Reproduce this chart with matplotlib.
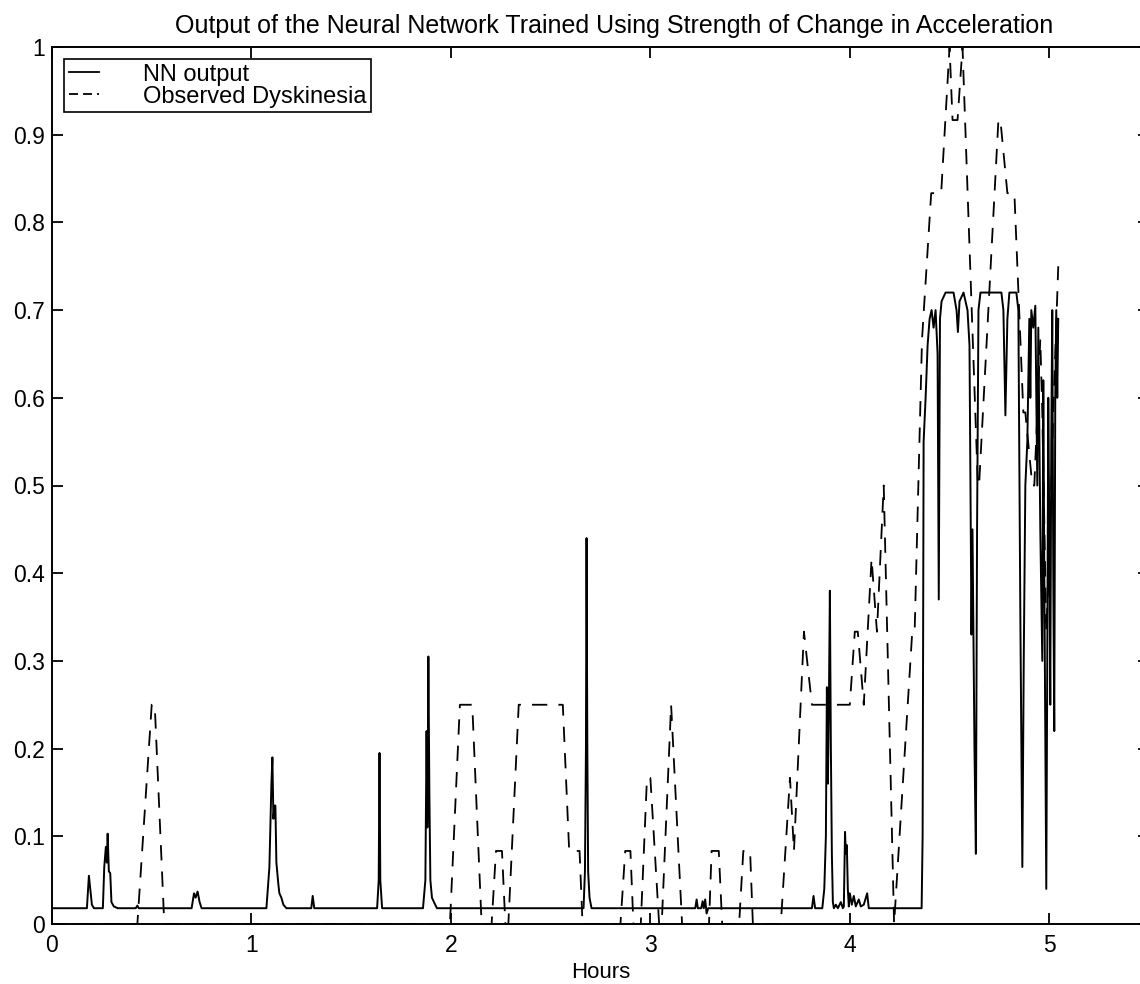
import matplotlib
matplotlib.use("Agg")
import matplotlib.pyplot as plt
from matplotlib.lines import Line2D

plt.rcParams['font.family'] = ['Liberation Sans', 'DejaVu Sans']
plt.rcParams['lines.scale_dashes'] = False

TITLE = "Output of the Neural Network Trained Using Strength of Change in Acceleration"
XLABEL = "Hours"
LEGEND_LABELS = ["NN output", "Observed Dyskinesia"]
X_TICKS = [0, 1, 2, 3, 4, 5]
Y_TICKS = [0, 0.1, 0.2, 0.3, 0.4, 0.5, 0.6, 0.7, 0.8, 0.9, 1.0]
Y_TICK_LABELS = ["0", "0.1", "0.2", "0.3", "0.4", "0.5", "0.6", "0.7", "0.8", "0.9", "1"]

# NN output (solid) : time in hours, value
nn_hours = [
    0.0, 0.175, 0.185, 0.192, 0.200, 0.210,
    0.255, 0.262, 0.270, 0.275, 0.279, 0.285, 0.292, 0.298, 0.310, 0.330,
    0.420, 0.428, 0.435,
    0.700, 0.712, 0.720, 0.730, 0.740, 0.750,
    1.075, 1.090, 1.100, 1.105, 1.110, 1.115, 1.120, 1.125, 1.135, 1.140, 1.150, 1.160, 1.175,
    1.300, 1.307, 1.315,
    1.630, 1.638, 1.642, 1.646, 1.655,
    1.860, 1.872, 1.878, 1.882, 1.887, 1.892, 1.897, 1.905, 1.915, 1.930,
    2.665, 2.672, 2.677, 2.680, 2.684, 2.688, 2.695, 2.705,
    3.225, 3.232, 3.238, 3.255, 3.262, 3.268, 3.275, 3.282, 3.290,
    3.810, 3.818, 3.826,
    3.862, 3.872, 3.880, 3.885, 3.890, 3.895, 3.900, 3.905, 3.910, 3.915, 3.920,
    3.930, 3.940, 3.955, 3.965,
    3.970, 3.976, 3.980, 3.985, 3.990, 3.995, 4.000, 4.010, 4.020, 4.030, 4.045, 4.055, 4.070, 4.087, 4.095,
    4.360, 4.365, 4.370, 4.380, 4.390, 4.400, 4.410, 4.420, 4.430, 4.440, 4.446, 4.452, 4.460,
    4.480, 4.520, 4.535, 4.542, 4.550, 4.570, 4.590, 4.600, 4.610, 4.615, 4.625, 4.632, 4.638,
    4.645, 4.655, 4.760, 4.770, 4.780, 4.790, 4.800, 4.835, 4.845, 4.855, 4.865, 4.872, 4.880,
    4.890, 4.900, 4.905, 4.910, 4.920, 4.930, 4.940, 4.945, 4.955, 4.965, 4.970, 4.975, 4.985,
    4.990, 4.995, 5.000, 5.005, 5.010, 5.015, 5.020, 5.025, 5.030, 5.035, 5.040, 5.045,
]
nn_values = [
    0.018, 0.018, 0.055, 0.040, 0.022, 0.018,
    0.018, 0.065, 0.088, 0.070, 0.103, 0.060, 0.058, 0.025, 0.020, 0.018,
    0.018, 0.021, 0.018,
    0.018, 0.035, 0.030, 0.037, 0.025, 0.018,
    0.018, 0.065, 0.160, 0.190, 0.120, 0.135, 0.135, 0.070, 0.045, 0.035, 0.030, 0.022, 0.018,
    0.018, 0.032, 0.018,
    0.018, 0.050, 0.195, 0.050, 0.018,
    0.018, 0.050, 0.220, 0.110, 0.305, 0.150, 0.050, 0.030, 0.025, 0.018,
    0.018, 0.060, 0.200, 0.440, 0.200, 0.060, 0.030, 0.018,
    0.018, 0.028, 0.018, 0.018, 0.026, 0.018, 0.028, 0.012, 0.018,
    0.018, 0.032, 0.018,
    0.018, 0.040, 0.100, 0.270, 0.160, 0.250, 0.380, 0.200, 0.080, 0.025, 0.018,
    0.022, 0.018, 0.025, 0.018,
    0.020, 0.105, 0.080, 0.090, 0.040, 0.020, 0.035, 0.022, 0.032, 0.020, 0.028, 0.020, 0.022, 0.035, 0.018,
    0.018, 0.100, 0.550, 0.600, 0.660, 0.690, 0.700, 0.680, 0.700, 0.650, 0.370, 0.690, 0.710,
    0.720, 0.720, 0.700, 0.675, 0.710, 0.720, 0.700, 0.660, 0.330, 0.450, 0.200, 0.080, 0.450,
    0.700, 0.720, 0.720, 0.700, 0.580, 0.690, 0.720, 0.720, 0.700, 0.350, 0.065, 0.300, 0.500,
    0.550, 0.690, 0.600, 0.700, 0.680, 0.705, 0.500, 0.680, 0.450, 0.300, 0.620, 0.400, 0.040,
    0.300, 0.600, 0.450, 0.250, 0.550, 0.700, 0.400, 0.220, 0.600, 0.700, 0.600, 0.690,
]

# Observed dyskinesia (dashed)
obs_hours = [
    0.0, 0.428, 0.500, 0.515, 0.563,
    1.995, 2.045, 2.107, 2.154,
    2.204, 2.226, 2.256, 2.273, 2.288, 2.340, 2.561, 2.593, 2.645, 2.660,
    2.850, 2.874, 2.900, 2.915, 2.952, 2.983, 3.000, 3.044, 3.057, 3.104, 3.159,
    3.294, 3.307, 3.343, 3.360, 3.445, 3.466, 3.500, 3.514,
    3.654, 3.700, 3.720, 3.770, 3.810, 4.000, 4.025, 4.040, 4.070, 4.109, 4.136, 4.170, 4.222,
    4.313, 4.325, 4.362, 4.408, 4.458, 4.500, 4.515, 4.540, 4.565, 4.642, 4.648,
    4.745, 4.755, 4.790, 4.825, 4.870, 4.880, 4.915, 4.925, 4.955, 4.965, 4.985, 5.000,
    5.020, 5.045,
]
obs_values = [
    0.0, 0.0, 0.25, 0.25, 0.0,
    0.0, 0.25, 0.25, 0.0,
    0.0, 0.0833, 0.0833, 0.0, 0.0, 0.25, 0.25, 0.0833, 0.0833, 0.0,
    0.0, 0.0833, 0.0833, 0.0, 0.0, 0.1667, 0.1667, 0.0, 0.0, 0.25, 0.0,
    0.0, 0.0833, 0.0833, 0.0, 0.0, 0.0833, 0.0833, 0.0,
    0.0, 0.1667, 0.0833, 0.3333, 0.25, 0.25, 0.3333, 0.3333, 0.25, 0.4167, 0.3333, 0.5, 0.0,
    0.3333, 0.3333, 0.6667, 0.8333, 0.8333, 1.0, 0.9167, 0.9167, 1.0, 0.5, 0.5,
    0.9167, 0.9167, 0.8333, 0.8333, 0.5833, 0.5833, 0.5, 0.5, 0.6667, 0.5833, 0.3333, 0.4167,
    0.5833, 0.75,
]

W, H = 1140, 984
fig = plt.figure(figsize=(W / 100, H / 100), dpi=100)
ax_left, ax_right, ax_top, ax_bottom = 52, 1149, 47, 924
ax = fig.add_axes([ax_left / W, 1 - ax_bottom / H, (ax_right - ax_left) / W, (ax_bottom - ax_top) / H])

ax.plot(nn_hours, nn_values, color="black", linewidth=1.4)
ax.plot(obs_hours, obs_values, color="black", linewidth=1.3, linestyle=(0, (11, 8)))

ax.set_xlim(0, 5.5)
ax.set_ylim(0, 1)
ax.set_xticks(X_TICKS)
ax.set_xticklabels([str(t) for t in X_TICKS])
ax.set_yticks(Y_TICKS)
ax.set_yticklabels(Y_TICK_LABELS)
ax.tick_params(direction="in", length=8, width=1.3, top=True, right=True,
               labelsize=16.5, colors="black")
ax.tick_params(axis="x", pad=7.5)
ax.tick_params(axis="y", pad=5)
for sp in ax.spines.values():
    sp.set_linewidth(1.4)

ax.set_title(TITLE, fontsize=18, pad=10, x=0.512)
ax.set_xlabel(XLABEL, fontsize=16)
ax.xaxis.set_label_coords(0.5, -0.043)
ax.xaxis.label.set_va("top")

handles = [
    Line2D([], [], color="black", linewidth=1.3),
    Line2D([], [], color="black", linewidth=1.3, linestyle=(0, (6.5, 3.6))),
]
leg = ax.legend(handles, LEGEND_LABELS, loc="upper left", fontsize=17, frameon=True,
                fancybox=False, edgecolor="black", framealpha=1, handlelength=1.3,
                borderaxespad=0.5, borderpad=0.2, labelspacing=0.0, handletextpad=1.85)
leg.get_frame().set_linewidth(1.2)

fig.savefig("out.png", dpi=100)
